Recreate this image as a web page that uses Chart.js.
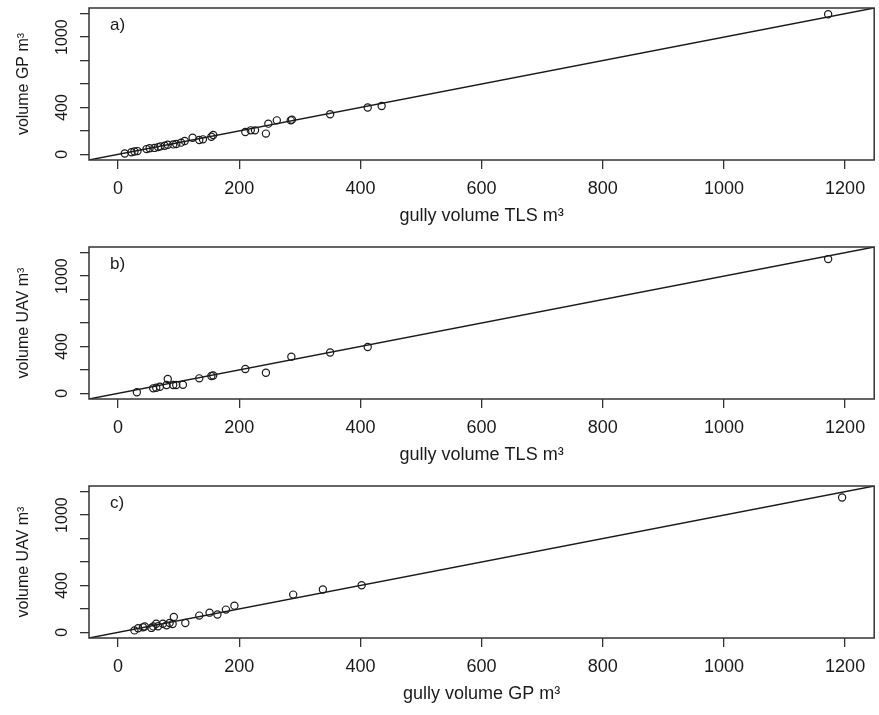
<!DOCTYPE html>
<html><head><meta charset="utf-8">
<script src="https://cdn.jsdelivr.net/npm/chart.js@4/dist/chart.umd.min.js"></script>
<style>
html,body{margin:0;padding:0;background:#fff;}
body{width:879px;height:715px;position:relative;overflow:hidden;}
.panel{position:absolute;left:0;width:879px;height:230px;}
</style></head><body>
<div class="panel" style="top:0px"><canvas id="ca" width="879" height="230"></canvas></div>
<div class="panel" style="top:239px"><canvas id="cb" width="879" height="230"></canvas></div>
<div class="panel" style="top:478px"><canvas id="cc" width="879" height="230"></canvas></div>
<script>
// axis limits and ticks
const axisMin = -48, axisMax = 1248;
const tickValues = [0, 200, 400, 600, 800, 1000, 1200];
const yLabeled = [0, 400, 1000];

// panel a) TLS vs GP
const tlsA = [11,22,27,32,47,52,60,66,70,77,82,91,96,104,110,123,134,140,154,157,210,219,226,244,248,262,285,287,350,412,435,1172];
const gpA  = [8,18,25,28,45,52,55,62,68,73,82,85,88,100,114,142,122,128,150,165,191,205,205,177,262,290,290,296,342,399,413,1195];

// panel b) TLS vs UAV
const tlsB = [31,58,63,69,80,82,91,96,107,134,154,157,210,244,286,350,412,1172];
const uavB = [9,43,48,57,71,122,71,72,74,128,148,152,208,176,313,349,396,1145];

// panel c) GP vs UAV
const gpC  = [27,33,41,44,55,58,63,66,74,80,85,90,92,111,134,151,164,178,192,289,338,402,1195];
const uavC = [17,35,43,50,38,51,74,52,74,60,80,72,132,80,143,168,152,194,228,322,365,402,1150];

const FONT = "'Liberation Sans', Arial, Helvetica, sans-serif";
const INK = '#1a1a1a';

const boxPlugin = {
  id: 'boxPlugin',
  afterDatasetsDraw(chart, args, opts) {
    const {ctx, chartArea: a} = chart;
    ctx.save();
    ctx.strokeStyle = '#333';
    ctx.lineWidth = 1.5;
    ctx.strokeRect(a.left, a.top, a.right - a.left, a.bottom - a.top);
    ctx.fillStyle = INK;
    ctx.font = '17px ' + FONT;
    ctx.textBaseline = 'alphabetic';
    ctx.textAlign = 'left';
    ctx.fillText(opts.letter, a.left + 21, a.top + 22);
    ctx.restore();
  }
};

function setTicks(scale) {
  scale.ticks = tickValues.map(v => ({value: v}));
}

function makePanel(id, letter, xs, ys, xTitle, yTitle) {
  const pts = xs.map((x, i) => ({x: x, y: ys[i]}));
  const line = [{x: axisMin, y: axisMin}, {x: axisMax, y: axisMax}];
  new Chart(document.getElementById(id), {
    type: 'scatter',
    data: {datasets: [
      {data: line, showLine: true, pointRadius: 0, borderColor: INK, borderWidth: 1.4, fill: false},
      {data: pts, pointRadius: 3.6, pointHoverRadius: 3.6, pointBorderWidth: 1.2,
       pointBorderColor: INK, pointBackgroundColor: 'rgba(0,0,0,0)', showLine: false}
    ]},
    options: {
      responsive: false,
      animation: false,
      devicePixelRatio: 1,
      layout: {padding: {top: 8, right: -3, left: 0, bottom: 0}},
      plugins: {legend: {display: false}, tooltip: {enabled: false}, boxPlugin: {letter: letter}},
      scales: {
        x: {
          type: 'linear', min: axisMin, max: axisMax,
          afterBuildTicks: setTicks,
          afterFit: s => { s.height = 70; s.paddingLeft = 0; s.paddingRight = 0; },
          border: {display: false},
          grid: {drawOnChartArea: false, drawTicks: true, tickLength: 9, color: '#333', lineWidth: 1.3},
          ticks: {color: INK, font: {family: FONT, size: 18}, padding: 9, maxRotation: 0, autoSkip: false,
                  callback: v => String(v)},
          title: {display: true, text: xTitle, color: INK, font: {family: FONT, size: 18}, padding: {top: 0, bottom: 3}}
        },
        y: {
          type: 'linear', min: axisMin, max: axisMax,
          afterBuildTicks: setTicks,
          afterFit: s => { s.width = 89; s.paddingTop = 0; s.paddingBottom = 0; },
          border: {display: false},
          grid: {drawOnChartArea: false, drawTicks: true, tickLength: 9, color: '#333', lineWidth: 1.3},
          ticks: {color: INK, font: {family: FONT, size: 16}, padding: 0, minRotation: 90, maxRotation: 90,
                  crossAlign: 'center', autoSkip: false,
                  callback: v => yLabeled.includes(v) ? String(v) : ''},
          title: {display: true, text: yTitle, color: INK, font: {family: FONT, size: 16}, padding: {top: 14, bottom: 0}}
        }
      }
    },
    plugins: [boxPlugin]
  });
}

makePanel('ca', 'a)', tlsA, gpA, 'gully volume TLS m³', 'volume GP m³');
makePanel('cb', 'b)', tlsB, uavB, 'gully volume TLS m³', 'volume UAV m³');
makePanel('cc', 'c)', gpC, uavC, 'gully volume GP m³', 'volume UAV m³');
</script>
</body></html>
